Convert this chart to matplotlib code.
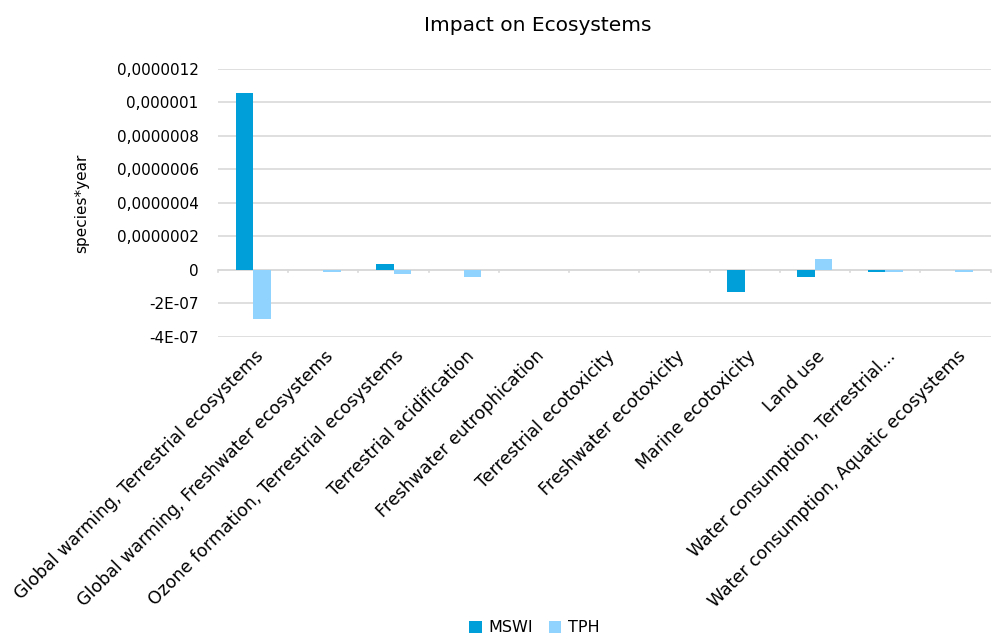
import matplotlib
matplotlib.use('Agg')
import matplotlib.pyplot as plt
import numpy as np

# Categories and values (species*year)
categories = [
    'Global warming, Terrestrial ecosystems',
    'Global warming, Freshwater ecosystems',
    'Ozone formation, Terrestrial ecosystems',
    'Terrestrial acidification',
    'Freshwater eutrophication',
    'Terrestrial ecotoxicity',
    'Freshwater ecotoxicity',
    'Marine ecotoxicity',
    'Land use',
    'Water consumption, Terrestrial...',
    'Water consumption, Aquatic ecosystems',
]
mswi = [1.057e-6, -1e-9, 3.5e-8, -2e-9, -3e-9, -2e-9, -2e-9, -1.33e-7, -4.0e-8, -1.4e-8, 0.0]
tph = [-2.95e-7, -1.2e-8, -2.5e-8, -4.0e-8, -1e-9, -2e-9, -1e-9, -3e-9, 6.4e-8, -1.2e-8, -1.2e-8]

yticks = [-4e-7, -2e-7, 0, 2e-7, 4e-7, 6e-7, 8e-7, 1e-6, 1.2e-6]
ytick_labels = ['-4E-07', '-2E-07', '0', '0,0000002', '0,0000004', '0,0000006',
                '0,0000008', '0,000001', '0,0000012']

fig = plt.figure(figsize=(9.93, 6.34), dpi=100)
ax = fig.add_axes([0.2195, 0.4685, 0.778, 0.4227])

x = np.arange(len(categories))
w = 0.25
ax.bar(x - w / 2, mswi, w, color='#009FD9', label='MSWI', zorder=3)
ax.bar(x + w / 2, tph, w, color='#8FD3FE', label='TPH', zorder=3)

ax.set_xlim(-0.5, len(categories) - 0.5)
ax.set_ylim(-4e-7, 1.2e-6)
ax.set_yticks(yticks)
ax.set_yticklabels(ytick_labels, fontsize=11)
ax.yaxis.grid(True, color='#D9D9D9', linewidth=1.2, zorder=0)
ax.tick_params(axis='y', length=0, pad=14)

for s in ax.spines.values():
    s.set_visible(False)
ax.axhline(0, color='#D9D9D9', linewidth=1.2, zorder=2)

# category labels and divider ticks along the zero line
ax.set_xticks([])
for i in range(len(categories) + 1):
    ax.plot([i - 0.5, i - 0.5], [0, -1.5e-8], color='#D9D9D9', lw=1.2, zorder=2, clip_on=False)
for i, c in enumerate(categories):
    ax.text(i + 0.02, -4.6e-7, c, rotation=45, ha='right', va='top',
            rotation_mode='anchor', fontsize=12.5)

ax.set_ylabel('species*year', fontsize=11, labelpad=20)
fig.text(0.542, 0.96, 'Impact on Ecosystems', ha='center', va='center', fontsize=14.5)

fig.legend(loc='lower center', bbox_to_anchor=(0.538, -0.025), ncol=2, frameon=False,
           fontsize=11.5, handlelength=0.8, handleheight=0.8, columnspacing=1.0,
           handletextpad=0.4)

fig.savefig('out.png', dpi=100)
